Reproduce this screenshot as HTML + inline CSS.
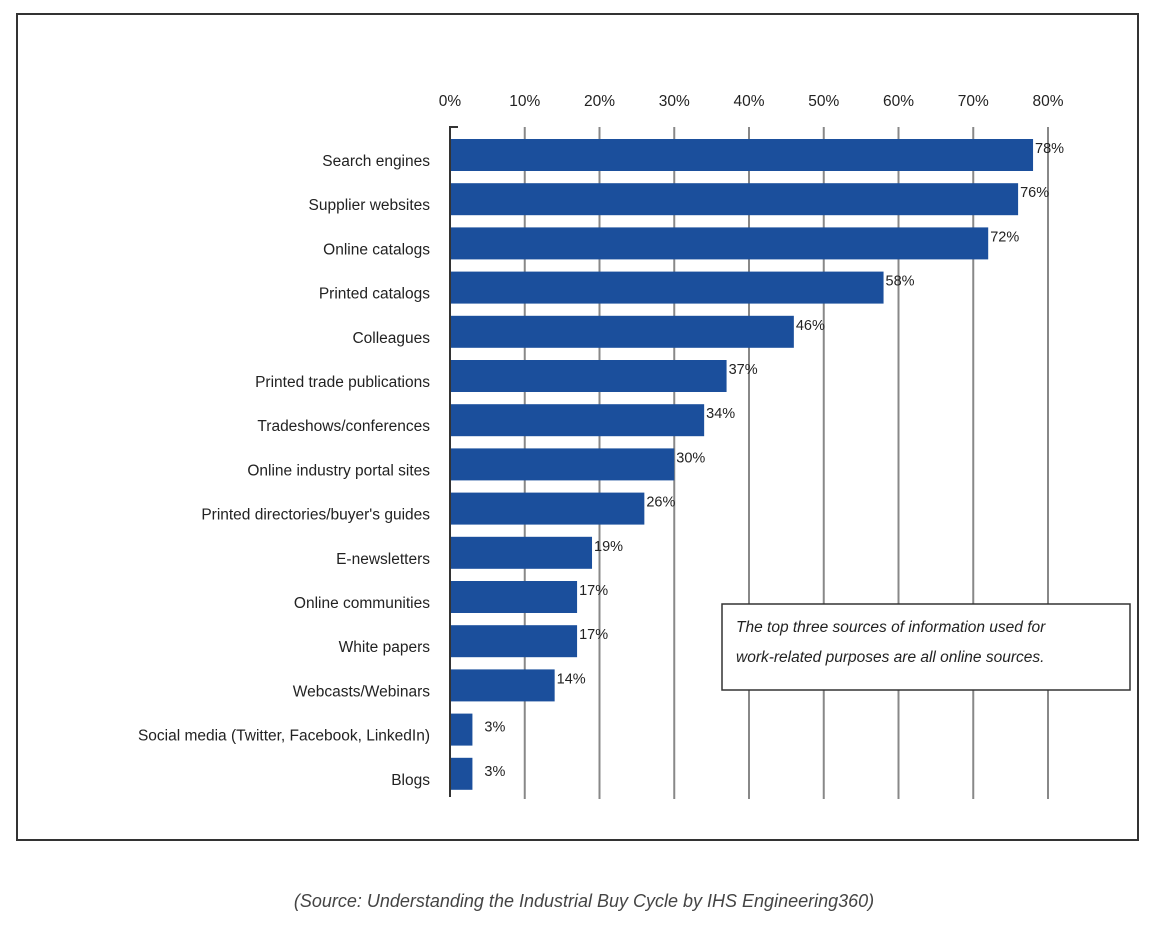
<!DOCTYPE html>
<html><head><meta charset="utf-8"><style>
body{margin:0;background:#fff;width:1168px;height:925px;overflow:hidden;font-family:"Liberation Sans",sans-serif}
svg text{font-family:"Liberation Sans",sans-serif}
</style></head><body>
<svg width="1168" height="925">
<rect x="17" y="14" width="1121" height="826" fill="none" stroke="#333" stroke-width="2"/>
<g id="grid"></g><g id="bars"></g>
<line x1="450" y1="126" x2="450" y2="797" stroke="#333" stroke-width="2"/>
<line x1="450" y1="127" x2="458" y2="127" stroke="#333" stroke-width="2"/>
<g>
<rect x="722" y="604" width="408" height="86" fill="#fff" stroke="#333" stroke-width="1.5"/>
<text x="736" y="632" font-size="15.5" font-style="italic" fill="#222">The top three sources of information used for</text>
<text x="736" y="662" font-size="15.5" font-style="italic" fill="#222">work-related purposes are all online sources.</text>
</g>
<text x="584" y="907" font-size="18" font-style="italic" fill="#444" text-anchor="middle" font-family="DejaVu Sans, sans-serif">(Source: Understanding the Industrial Buy Cycle by IHS Engineering360)</text>
</svg>
<script>
const categories=["Search engines","Supplier websites","Online catalogs","Printed catalogs","Colleagues","Printed trade publications","Tradeshows/conferences","Online industry portal sites","Printed directories/buyer's guides","E-newsletters","Online communities","White papers","Webcasts/Webinars","Social media (Twitter, Facebook, LinkedIn)","Blogs"];
const values=[78,76,72,58,46,37,34,30,26,19,17,17,14,3,3];
const ticks=[0,10,20,30,40,50,60,70,80];
const NS="http://www.w3.org/2000/svg";
const x=v=>450+v*7.475;
const yc=i=>155+i*44.2;
function mk(t,a,p,txt){const e=document.createElementNS(NS,t);for(const k in a)e.setAttribute(k,a[k]);if(txt!==undefined)e.textContent=txt;p.appendChild(e);return e;}
const grid=document.getElementById('grid'),bars=document.getElementById('bars');
ticks.forEach(t=>{
 if(t>0){const l=mk('line',{x1:x(t),y1:127,x2:x(t),y2:799,stroke:'#888','stroke-width':2},grid);
 
 }
 const tx=mk('text',{x:x(t),y:106,'font-size':15.5,'text-anchor':'middle',fill:'#222'},grid,t+'%');
 
 
});
categories.forEach((c,i)=>{
 const r=mk('rect',{x:450,y:yc(i)-16,width:x(values[i])-450,height:32,fill:'#1b4f9c'},bars);
 
 
 const lb=mk('text',{x:430,y:yc(i)+11,'font-size':15.5,'text-anchor':'end',fill:'#222'},bars,c);
 
 
 const v=mk('text',{x:x(values[i])+(values[i]<10?12:2),y:yc(i)+(values[i]<10?2:-2),'font-size':14.5,fill:'#222'},bars,values[i]+'%');
 
 
});
</script>
</body></html>
